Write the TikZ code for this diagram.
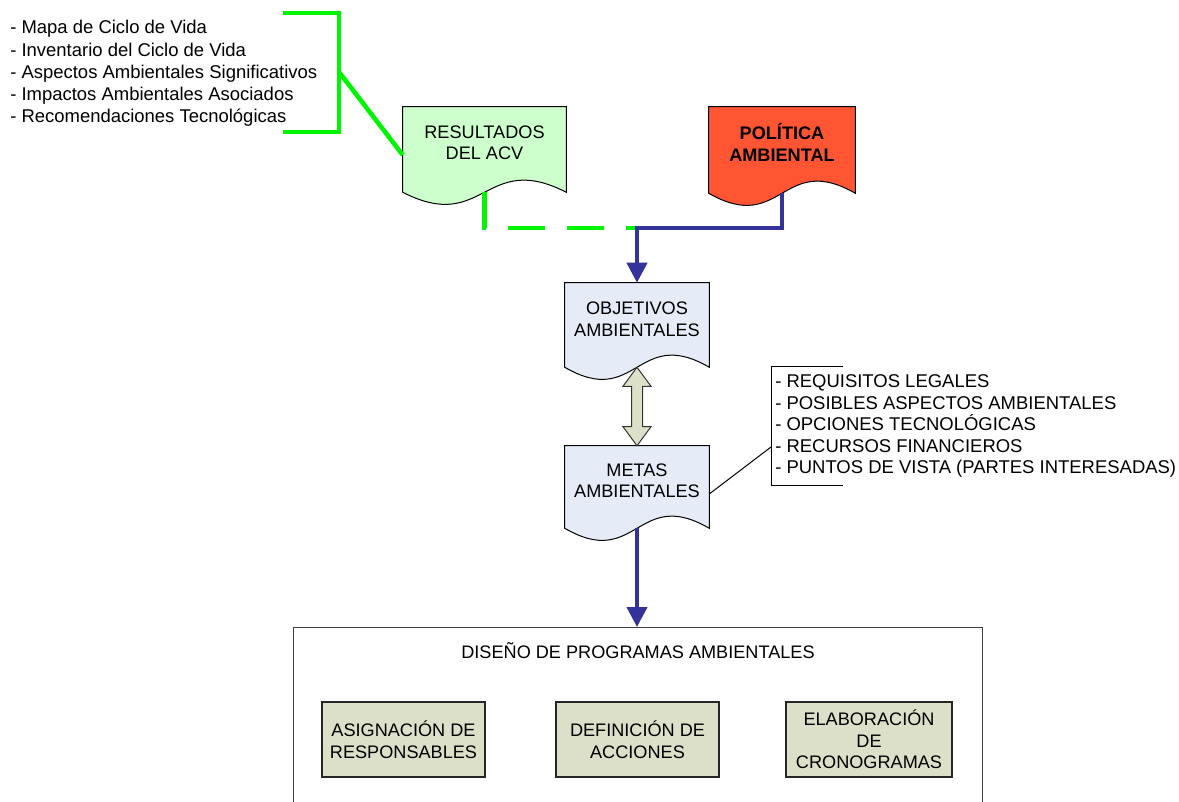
\documentclass[tikz,border=0pt]{standalone}
\usepackage{fontspec}
\setmainfont{Liberation Sans}
\usetikzlibrary{arrows.meta,calc,backgrounds}
\definecolor{docblue}{RGB}{230,236,247}
\definecolor{docgreen}{RGB}{204,255,204}
\definecolor{docred}{RGB}{255,85,51}
\definecolor{subfill}{RGB}{221,224,200}
\definecolor{linkblue}{RGB}{51,51,153}
\definecolor{linkgreen}{RGB}{0,245,0}
\newcommand\docoutline[2]{%
  \begin{pgfonlayer}{background}
  \draw[docline,fill=#2] (#1.north west) -- (#1.north east) -- (#1.south east)
    .. controls ($(#1.south)+(0,-42)$) and ($(#1.south)+(0,42)$) .. (#1.south west) -- cycle;
  \end{pgfonlayer}}
\tikzset{
  shapebox/.style={draw=none, inner sep=0pt},
  boxtext/.style={align=center, font=\fontsize{13.6}{16.1}\selectfont, inner sep=0pt},
  listtext/.style={align=left, anchor=west, inner sep=0pt, font=\fontsize{13.85}{16.7}\selectfont},
  rightlist/.style={align=left, anchor=west, inner sep=0pt, font=\fontsize{13.85}{16.1}\selectfont},
  docline/.style={draw=black, line width=0.75pt},
  subbox/.style={draw=black!85, line width=0.9pt, fill=subfill, inner sep=0pt, align=center,
                 font=\fontsize{13.6}{16.1}\selectfont},
  greenline/.style={draw=linkgreen, line width=3.4pt},
  greendash/.style={draw=linkgreen, line width=3.4pt, dash pattern=on 27.75pt off 16.5pt},
  blueline/.style={draw=linkblue, line width=3pt, -{Triangle[width=15pt,length=15pt]}},
  thinline/.style={draw=black, line width=0.75pt},
  dblarrow/.style={draw=black!80, line width=0.75pt, fill=subfill, line join=miter}
}
\begin{document}
\begin{tikzpicture}[x=0.75pt,y=-0.75pt]
\useasboundingbox (0,0) rectangle (1179,802);
\clip (0,0) rectangle (1179,802);

% left list and green bracket
\node[listtext] (lst) at (10,73.5) {- Mapa de Ciclo de Vida\\- Inventario del Ciclo de Vida\\- Aspectos Ambientales Significativos\\- Impactos Ambientales Asociados\\- Recomendaciones Tecnológicas};
\coordinate (bt1) at (283,13);
\coordinate (bt2) at (339,13);
\coordinate (bb2) at (339,132);
\coordinate (bb1) at (283,132);
\coordinate (bm) at (339,72);

% document shapes
\node[shapebox, minimum width=122.25pt, minimum height=63.75pt,
  label={[boxtext,name=rest,yshift=5.2pt]center:RESULTADOS\\DEL ACV}] (res) at (484.5,149.5) {};
\docoutline{res}{docgreen}
\node[shapebox, minimum width=109.5pt, minimum height=64.5pt,
  label={[boxtext,name=polt,yshift=5.6pt,font=\fontsize{13.6}{16.1}\selectfont\bfseries]center:POLÍTICA\\AMBIENTAL}] (pol) at (782,150) {};
\docoutline{pol}{docred}
\node[shapebox, minimum width=108pt, minimum height=63pt,
  label={[boxtext,name=objt,yshift=4.2pt]center:OBJETIVOS\\AMBIENTALES}] (obj) at (637,325) {};
\docoutline{obj}{docblue}
\node[shapebox, minimum width=108pt, minimum height=61.5pt,
  label={[boxtext,name=mett,yshift=4.5pt]center:METAS\\AMBIENTALES}] (met) at (637,487) {};
\docoutline{met}{docblue}

% right list with bracket
\node[rightlist] (rl) at (775,426) {- REQUISITOS LEGALES\\- POSIBLES ASPECTOS AMBIENTALES\\- OPCIONES TECNOLÓGICAS\\- RECURSOS FINANCIEROS\\- PUNTOS DE VISTA (PARTES INTERESADAS)};
\coordinate (rt) at (843,367);
\coordinate (rtv) at (771,367);
\coordinate (rbv) at (771,485);
\coordinate (rb) at (843,485);
\coordinate (rm) at (771,447);

% bottom box
\node[shapebox, minimum width=516pt, minimum height=150pt, anchor=north] (prog) at (638,627) {};
\node[boxtext] (progt) at (638,651) {DISEÑO DE PROGRAMAS AMBIENTALES};
\node[subbox, minimum width=122.25pt, minimum height=56.25pt] (asig) at (403.5,739.5) {ASIGNACIÓN DE\\RESPONSABLES};
\node[subbox, minimum width=122.25pt, minimum height=56.25pt] (defi) at (637.5,739.5) {DEFINICIÓN DE\\ACCIONES};
\node[subbox, minimum width=124.5pt, minimum height=56.25pt] (elab) at (869,739.5) {ELABORACIÓN\\DE\\CRONOGRAMAS};
\draw[thinline, draw=black!75] (prog.south west) -- (prog.north west) -- (prog.north east) -- (prog.south east);

% connectors
\draw[greenline, line join=miter] (bt1) -- (bt2) -- (bb2) -- (bb1);
\draw[greenline] (bm) -- ($(res.west)+(0,5.5)$);
\coordinate (j) at (637,228);
\draw[greendash] (res.south) |- (j);
\draw[blueline] (pol.south) |- (j) -- (obj.north);
\draw[blueline] (met.south) -- (met.south |- prog.north);
\draw[thinline] (rt) -- (rtv) -- (rbv) -- (rb);
\draw[thinline] (rm) -- ($(met.east)+(0,7)$);
\draw[dblarrow] (obj.south) -- ++(14,19) -- ++(-8.5,0) -- ($(met.north)+(5.5,-19)$) -- ++(8.5,0)
  -- (met.north) -- ++(-14,-19) -- ++(8.5,0) -- ($(obj.south)+(-5.5,19)$) -- ++(-8.5,0) -- cycle;
\end{tikzpicture}
\end{document}
